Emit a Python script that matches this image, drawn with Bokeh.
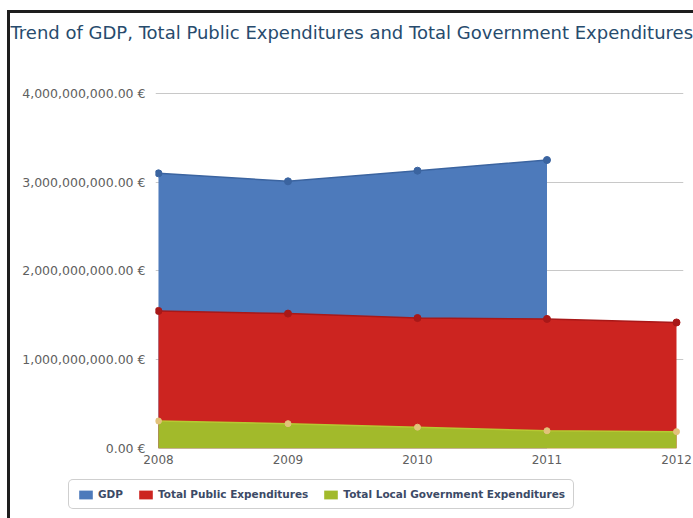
from bokeh.plotting import figure
from bokeh.layouts import column
from bokeh.models import (Range1d, FixedTicker, Legend, LegendItem,
                          ColumnDataSource, InlineStyleSheet)
from bokeh.embed import file_html
from bokeh.resources import INLINE

# ---- data ----
title_text = "Trend of GDP, Total Public Expenditures and Total Government Expenditures"
years_gdp = [2008, 2009, 2010, 2011]
gdp = [3.10e9, 3.01e9, 3.13e9, 3.25e9]
years = [2008, 2009, 2010, 2011, 2012]
public_exp = [1.55e9, 1.52e9, 1.47e9, 1.46e9, 1.42e9]
local_exp = [0.31e9, 0.28e9, 0.24e9, 0.20e9, 0.19e9]
series_names = ["GDP", "Total Public Expenditures", "Total Local Government Expenditures"]
x_ticks = [2008, 2009, 2010, 2011, 2012]
x_tick_labels = ["2008", "2009", "2010", "2011", "2012"]
y_ticks = [0, 1e9, 2e9, 3e9, 4e9]
y_tick_labels = ["0.00 €", "1,000,000,000.00 €", "2,000,000,000.00 €",
                 "3,000,000,000.00 €", "4,000,000,000.00 €"]

W, H = 693, 518
MAIN_H = 475
FL, FR, FT, FB = 155, 683, 60, 448
LEG_LEFT, LEG_BOTTOM = 68, 509

p = figure(width=W, height=MAIN_H, output_backend="svg", toolbar_location=None,
           x_range=Range1d(2007.977, 2012.054), y_range=Range1d(0, 4.36e9),
           min_border_left=FL, min_border_right=W - FR,
           min_border_top=FT, min_border_bottom=MAIN_H - FB)
p.outline_line_color = None
p.background_fill_color = "white"
p.border_fill_color = "white"

# title
p.title.text = title_text
p.title.align = "left"
p.title.offset = 10 - FL
p.title.standoff = 38
p.title.text_font = "DejaVu Sans"
p.title.text_font_size = "18px"
p.title.text_font_style = "normal"
p.title.text_color = "#274b6d"

# axes
p.xaxis.ticker = FixedTicker(ticks=x_ticks)
p.xaxis.major_label_overrides = {t: l for t, l in zip(x_ticks, x_tick_labels)}
p.yaxis.ticker = FixedTicker(ticks=y_ticks)
p.yaxis.major_label_overrides = {t: l for t, l in zip(y_ticks, y_tick_labels)}
for ax in (p.xaxis, p.yaxis):
    ax.axis_line_color = None
    ax.major_tick_line_color = None
    ax.minor_tick_line_color = None
    ax.major_tick_out = 0
    ax.major_tick_in = 0
    ax.major_label_text_font = "DejaVu Sans"
    ax.major_label_text_color = "#606060"
p.yaxis.major_label_text_font_size = "12.5px"
p.xaxis.major_label_text_font_size = "12px"
p.yaxis.major_label_standoff = 10
p.xaxis.major_label_standoff = 6
p.xgrid.grid_line_color = None
p.ygrid.ticker = FixedTicker(ticks=y_ticks)
p.ygrid.grid_line_color = "#c8c8c8"
p.ygrid.grid_line_width = 1

# series
blue, blue_d = "#4d7abb", "#3b64a0"
red, red_d = "#cc2420", "#a81818"
green, green_d = "#a2ba2b", "#e2c27a"
fills = [blue, red, green]

src_g = ColumnDataSource(dict(x=years_gdp, y=gdp, z=[0] * len(gdp)))
src_p = ColumnDataSource(dict(x=years, y=public_exp, z=[0] * len(years)))
src_l = ColumnDataSource(dict(x=years, y=local_exp, z=[0] * len(years)))

p.varea(x="x", y1="z", y2="y", source=src_g, fill_color=blue)
p.line(x="x", y="y", source=src_g, line_color=blue_d, line_width=1.5)
p.varea(x="x", y1="z", y2="y", source=src_p, fill_color=red)
p.line(x="x", y="y", source=src_p, line_color=red_d, line_width=1.5)
p.varea(x="x", y1="z", y2="y", source=src_l, fill_color=green)
p.line(x="x", y="y", source=src_l, line_color="#b7c932", line_width=1.5)

p.scatter(x="x", y="y", source=src_g, size=7, fill_color=blue_d, line_color=blue_d)
p.scatter(x="x", y="y", source=src_p, size=7, fill_color=red_d, line_color=red_d)
p.scatter(x="x", y="y", source=src_l, size=6, fill_color=green_d, line_color=green_d)

# legend strip (separate canvas below the chart; its frame is aligned with
# the chart frame by the column, so it is shifted left to the legend's place)
LH = H - MAIN_H
pl = figure(width=W, height=LH, output_backend="svg", toolbar_location=None,
            x_axis_type=None, y_axis_type=None,
            x_range=Range1d(0, 1), y_range=Range1d(0, 1),
            min_border_left=0, min_border_right=0, min_border_top=0, min_border_bottom=0)
pl.outline_line_color = None
pl.grid.visible = False
pl.border_fill_color = "white"
pl.background_fill_color = "white"
items = []
for name, col in zip(series_names, fills):
    # legend swatch source kept outside the visible range of the strip
    r = pl.varea(x=[5, 6], y1=[5, 5], y2=[6, 6], fill_color=col)
    items.append(LegendItem(label=name, renderers=[r]))

legend = Legend(items=items, orientation="horizontal", location=(0, H - LEG_BOTTOM))
legend.label_text_font = "DejaVu Sans"
legend.label_text_font_size = "10.5px"
legend.label_text_font_style = "bold"
legend.label_text_color = "#3c4a66"
legend.glyph_width = 17
legend.glyph_height = 11
legend.label_height = 12
legend.label_standoff = 4
legend.spacing = 14
legend.padding = 8
legend.margin = 0
legend.border_line_color = "#a0a0a0"
legend.border_line_width = 1
legend.background_fill_color = "white"
legend.background_fill_alpha = 1
if "border_radius" in Legend.properties():
    legend.border_radius = 5
pl.add_layout(legend, "center")
pl.styles = {"transform": "translateX(%dpx)" % (LEG_LEFT - FL)}

page = column(p, pl, spacing=0)

# dark frame of the screenshot (top and left edges)
page.stylesheets = [InlineStyleSheet(css="""
:host::before { content: ""; position: absolute; left: 7px; top: 10px;
  width: 3px; height: 508px; background: #1e1e1e; z-index: 20; pointer-events: none; }
:host::after { content: ""; position: absolute; left: 7px; top: 10px;
  width: 686px; height: 3px; background: #1e1e1e; z-index: 20; pointer-events: none; }
""")]

open("out.html", "w").write(file_html(page, INLINE))
